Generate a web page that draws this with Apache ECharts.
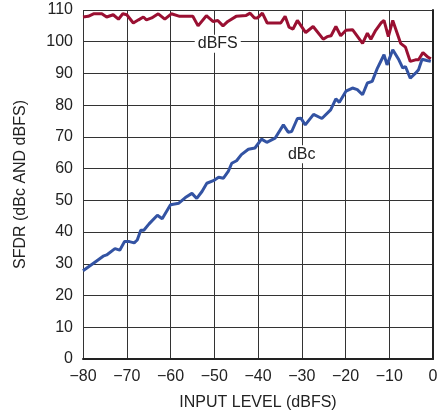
<!DOCTYPE html>
<html>
<head>
<meta charset="utf-8">
<script src="https://cdn.jsdelivr.net/npm/echarts@6/dist/echarts.min.js"></script>
<style>
  html, body { margin: 0; padding: 0; background: #fff; }
  #chart { width: 447px; height: 419px; }
</style>
</head>
<body>
<div id="chart"></div>
<script>
var xTicks = [-80, -70, -60, -50, -40, -30, -20, -10, 0];
var yTicks = [0, 10, 20, 30, 40, 50, 60, 70, 80, 90, 100, 110];

/* dBc curve (input level, SFDR) */
var dbcX = [-80, -77.6, -75.4, -74.6, -72.7, -71.6, -70.5, -69.4, -68.3, -67.6, -66.8, -66.1, -64.9, -63.0, -61.9,
    -60.0, -58.1, -56.6, -55.1, -54.0, -52.8, -51.7, -50.2, -49.0, -47.9, -46.8, -46.0, -44.9, -43.8, -42.2,
    -40.7, -39.2, -38.0, -36.1, -34.2, -33.1, -32.3, -31.0, -30.2, -29.2, -27.3, -25.4, -23.4, -22.2, -21.4,
    -19.9, -18.4, -17.3, -16.1, -15.0, -13.9, -12.7, -11.2, -10.5, -9.2, -7.8, -6.9, -6.3, -5.2, -4.0,
    -3.3, -2.5, -1.4, -0.5];
var dbcY = [27.8, 30.2, 32.4, 32.8, 34.8, 34.3, 37.0, 37.0, 36.6, 37.5, 40.6, 40.6, 42.6, 45.3, 44.2,
    48.6, 49.1, 50.9, 52.2, 50.6, 52.8, 55.4, 56.2, 57.3, 57.0, 59.1, 61.7, 62.5, 64.4, 66.1,
    66.5, 69.3, 68.3, 69.6, 73.8, 71.5, 71.7, 75.8, 75.9, 73.8, 77.1, 75.8, 78.5, 82.0, 80.9,
    84.4, 85.4, 84.9, 83.3, 87.0, 87.5, 91.7, 95.9, 92.7, 97.5, 94.3, 91.7, 92.2, 88.5, 90.1,
    91.2, 94.5, 94.1, 93.8];

/* dBFS curve (input level, SFDR) */
var dbfsX = [-80, -78.8, -77.6, -75.7, -74.6, -73.1, -71.9, -70.9, -70.0, -68.5, -67.3, -66.2, -65.5, -64.3, -62.8,
    -61.3, -59.8, -57.9, -54.9, -53.7, -51.8, -50.3, -49.2, -48.0, -46.9, -45.0, -42.7, -41.8, -40.8, -40.1,
    -39.0, -37.9, -34.8, -33.8, -32.9, -32.0, -31.0, -29.1, -27.4, -25.1, -24.2, -23.3, -22.2, -21.1, -19.9,
    -18.4, -16.1, -15.0, -14.2, -13.1, -11.9, -11.2, -10.2, -9.2, -7.4, -6.3, -5.2, -4.0, -3.3, -2.3,
    -1.1, -0.5];
var dbfsY = [107.8, 108.0, 108.8, 108.8, 107.8, 108.5, 107.1, 108.8, 108.5, 105.9, 106.9, 107.8, 106.9, 107.5, 108.8,
    107.1, 108.8, 108.0, 108.0, 105.0, 108.2, 106.4, 106.7, 105.0, 106.4, 108.0, 108.3, 109.0, 107.5, 107.5,
    109.0, 105.9, 105.9, 108.0, 104.6, 104.0, 106.7, 102.9, 104.8, 100.8, 101.6, 101.9, 104.8, 101.9, 103.6,
    103.8, 99.5, 102.7, 100.8, 103.6, 105.9, 106.7, 101.6, 106.7, 99.5, 98.3, 93.8, 94.3, 94.3, 96.6,
    95.1, 94.6];

function pairs(xs, ys) {
    var out = [];
    for (var i = 0; i < xs.length; i++) out.push([xs[i], ys[i]]);
    return out;
}

var myChart = echarts.init(document.getElementById('chart'));
var font = "'Liberation Sans Narrow', 'Arial Narrow', 'Liberation Sans', sans-serif";
var gridLine = { show: true, lineStyle: { color: '#333', width: 1 } };

function curveLabel(text, coord) {
    return {
        symbol: 'none',
        silent: true,
        data: [{
            coord: coord,
            symbol: 'rect',
            symbolSize: 1,
            itemStyle: { color: 'rgba(0,0,0,0)' },
            label: {
                show: true, position: 'inside', formatter: text,
                color: '#222', fontSize: 16, fontFamily: font,
                backgroundColor: '#fff', padding: [1, 3]
            }
        }]
    };
}

var option = {
    animation: false,
    backgroundColor: '#fff',
    grid: { left: 83, right: 14, top: 10, bottom: 60 },
    xAxis: {
        type: 'value',
        min: xTicks[0], max: xTicks[xTicks.length - 1], interval: 10,
        name: 'INPUT LEVEL (dBFS)', nameLocation: 'middle', nameGap: 36,
        nameTextStyle: { color: '#222', fontSize: 16, fontFamily: font },
        axisLine: { show: true, onZero: false, lineStyle: { color: '#222', width: 2 } },
        axisTick: { show: false },
        axisLabel: {
            color: '#222', fontSize: 16, fontFamily: font, margin: 10,
            formatter: function (v) { return v < 0 ? '\u2212' + Math.abs(v) : String(v); }
        },
        splitLine: gridLine
    },
    yAxis: {
        type: 'value',
        min: yTicks[0], max: yTicks[yTicks.length - 1], interval: 10,
        name: 'SFDR (dBc AND dBFS)', nameLocation: 'middle', nameGap: 54,
        nameTextStyle: { color: '#222', fontSize: 16, fontFamily: font },
        axisLine: { show: true, lineStyle: { color: '#222', width: 2 } },
        axisTick: { show: false },
        axisLabel: { color: '#222', fontSize: 16, fontFamily: font, margin: 10 },
        splitLine: gridLine
    },
    series: [
        {
            name: 'dBFS', type: 'line', data: pairs(dbfsX, dbfsY),
            showSymbol: false, lineStyle: { color: '#9a1032', width: 3 },
            markPoint: curveLabel('dBFS', [-49.2, 99.4])
        },
        {
            name: 'dBc', type: 'line', data: pairs(dbcX, dbcY),
            showSymbol: false, lineStyle: { color: '#3353a3', width: 3 },
            markPoint: curveLabel('dBc', [-30, 64.5])
        }
    ]
};
myChart.setOption(option);
</script>
</body>
</html>
